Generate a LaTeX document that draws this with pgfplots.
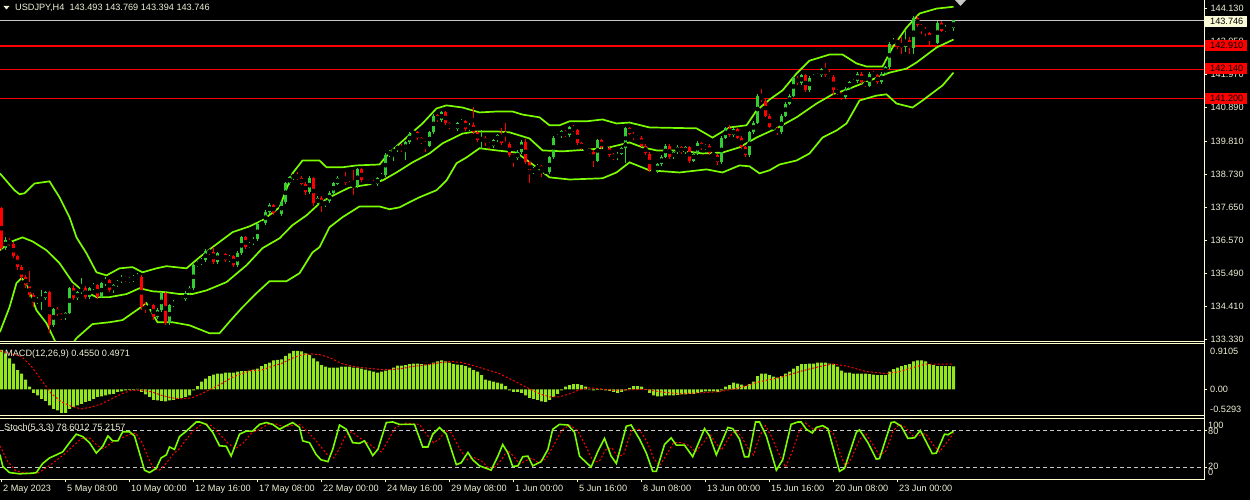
\documentclass[border=0pt]{standalone}
\usepackage{fontspec}
\setmainfont{Liberation Sans}
\usepackage{pgfplots}
\pgfplotsset{compat=1.18}
\usepackage{pgfplotstable}
\definecolor{fg}{RGB}{240,240,215}
\definecolor{frm}{RGB}{255,255,205}
\definecolor{bull}{RGB}{50,205,50}
\definecolor{bear}{RGB}{255,0,0}
\definecolor{band}{RGB}{124,252,0}
\definecolor{hist}{RGB}{150,230,30}
\definecolor{lvl}{RGB}{200,200,200}
\definecolor{bidbox}{RGB}{250,250,215}
\newcommand\tf{\fontsize{9.2}{11}\selectfont}

\pgfplotstableread{
i o h l c
0 137.61 137.66 136.25 136.31
1 136.31 136.66 136.24 136.57
2 136.57 136.63 136.38 136.44
3 136.44 136.50 135.98 136.04
4 136.04 136.10 135.60 135.69
5 135.69 135.75 135.28 135.36
6 135.36 135.44 135.02 135.10
7 135.10 135.55 134.70 134.77
8 134.77 134.85 134.40 134.54
9 134.54 134.70 134.48 134.64
10 134.64 134.95 134.30 134.68
11 134.68 134.92 134.62 134.87
12 134.87 134.90 133.53 133.79
13 133.79 134.36 133.72 134.32
14 134.32 134.38 134.10 134.15
15 134.15 134.20 133.95 134.02
16 134.02 134.24 133.96 134.19
17 134.19 135.05 134.15 135.00
18 135.00 135.10 134.62 134.68
19 134.68 134.92 134.60 134.87
20 134.87 135.33 134.82 135.00
21 135.00 135.06 134.66 134.71
22 134.71 135.05 134.65 135.00
23 135.00 135.16 134.94 135.10
24 135.10 135.14 134.66 134.71
25 134.71 135.20 134.68 135.16
26 135.16 135.36 135.08 135.26
27 135.26 135.30 134.88 134.94
28 134.94 135.15 134.86 135.10
29 135.10 135.28 135.05 135.23
30 135.23 135.42 135.18 135.36
31 135.36 135.40 135.20 135.26
32 135.26 135.36 135.16 135.29
33 135.29 135.42 135.22 135.33
34 135.33 135.50 135.27 135.36
35 135.36 135.42 134.30 134.38
36 134.38 134.55 134.20 134.35
37 134.35 134.50 134.28 134.45
38 134.45 134.50 133.95 134.06
39 134.06 134.34 134.00 134.28
40 134.28 134.88 134.22 134.84
41 134.84 134.88 133.79 133.86
42 133.86 134.50 133.80 134.45
43 134.45 134.60 134.38 134.54
44 134.54 134.66 134.48 134.61
45 134.61 134.70 134.55 134.64
46 134.64 134.90 134.58 134.84
47 134.84 135.08 134.78 135.00
48 135.00 135.80 134.95 135.75
49 135.75 135.90 135.70 135.82
50 135.82 135.98 135.76 135.91
51 135.91 136.27 135.86 136.21
52 136.21 136.28 136.10 136.18
53 136.18 136.34 135.80 135.85
54 135.85 136.20 135.80 136.14
55 136.14 136.20 136.04 136.11
56 136.11 136.16 135.86 135.91
57 135.91 136.10 135.86 136.04
58 136.04 136.08 135.70 135.75
59 135.75 136.20 135.70 136.14
60 136.14 136.72 136.08 136.66
61 136.66 136.70 136.28 136.34
62 136.34 136.52 136.30 136.47
63 136.47 136.66 136.42 136.60
64 136.60 137.14 136.55 137.09
65 137.09 137.20 137.02 137.12
66 137.12 137.54 137.08 137.48
67 137.48 137.78 137.42 137.71
68 137.71 137.76 137.40 137.45
69 137.45 137.50 137.35 137.41
70 137.41 137.88 137.36 137.81
71 137.81 138.48 137.76 138.42
72 138.42 138.68 138.38 138.62
73 138.62 138.76 138.55 138.69
74 138.69 138.78 138.52 138.59
75 138.59 138.65 138.36 138.42
76 138.42 138.48 138.06 138.13
77 138.13 138.66 138.08 138.59
78 138.59 138.64 137.70 137.77
79 137.77 138.00 137.72 137.94
80 137.94 138.00 137.50 137.71
81 137.71 137.90 137.66 137.84
82 137.84 138.16 137.80 138.10
83 138.10 138.48 138.05 138.42
84 138.42 138.65 138.38 138.59
85 138.59 138.70 138.54 138.62
86 138.62 138.80 138.36 138.42
87 138.42 138.50 138.30 138.36
88 138.36 138.85 138.05 138.33
89 138.33 138.94 138.28 138.88
90 138.88 138.92 138.46 138.52
91 138.52 138.58 138.42 138.49
92 138.49 138.55 138.40 138.46
93 138.46 138.52 138.33 138.39
94 138.39 138.64 138.34 138.59
95 138.59 138.75 138.54 138.69
96 138.69 139.40 138.64 139.34
97 139.34 139.53 139.28 139.47
98 139.47 139.58 139.15 139.50
99 139.50 139.72 139.44 139.66
100 139.66 139.70 139.44 139.50
101 139.50 139.82 139.20 139.76
102 139.76 140.10 139.70 140.05
103 140.05 140.16 140.00 140.09
104 140.09 140.14 139.84 139.89
105 139.89 139.94 139.70 139.76
106 139.76 139.80 139.45 139.66
107 139.66 140.14 139.60 140.09
108 140.09 140.70 140.04 140.64
109 140.64 140.70 140.42 140.48
110 140.48 140.80 140.44 140.74
111 140.74 140.78 140.33 140.38
112 140.38 140.42 140.20 140.25
113 140.25 140.30 140.14 140.19
114 140.19 140.44 140.14 140.38
115 140.38 140.52 140.33 140.45
116 140.45 140.50 140.14 140.19
117 140.19 140.38 140.14 140.32
118 140.32 140.93 140.04 140.09
119 140.09 140.14 139.78 139.83
120 139.83 140.15 139.55 139.92
121 139.92 139.98 139.66 139.73
122 139.73 139.78 139.56 139.63
123 139.63 139.88 139.58 139.83
124 139.83 140.04 139.78 139.99
125 139.99 140.22 139.68 139.73
126 139.73 140.41 139.64 139.70
127 139.70 139.76 139.28 139.34
128 139.34 139.40 138.95 139.24
129 139.24 139.50 139.18 139.44
130 139.44 139.85 139.40 139.79
131 139.79 139.86 139.05 139.11
132 139.11 139.16 138.42 138.78
133 138.78 138.96 138.72 138.91
134 138.91 139.04 138.85 138.98
135 138.98 139.03 138.62 138.85
136 138.85 138.90 138.72 138.78
137 138.78 139.32 138.72 139.27
138 139.27 139.98 139.22 139.92
139 139.92 140.02 139.86 139.96
140 139.96 140.18 139.90 140.12
141 140.12 140.18 139.94 139.99
142 139.99 140.30 139.94 140.25
143 140.25 140.32 140.10 140.15
144 140.15 140.20 139.68 139.73
145 139.73 139.78 139.50 139.57
146 139.57 139.62 139.48 139.53
147 139.53 139.58 139.38 139.44
148 139.44 139.50 138.95 139.17
149 139.17 139.88 139.12 139.83
150 139.83 139.88 139.54 139.60
151 139.60 139.66 139.50 139.57
152 139.57 139.62 139.28 139.34
153 139.34 139.40 139.18 139.24
154 139.24 139.46 139.18 139.40
155 139.40 139.62 139.34 139.57
156 139.57 140.28 139.10 140.22
157 140.22 140.28 140.00 140.05
158 140.05 140.10 139.84 139.89
159 139.89 140.00 139.84 139.92
160 139.92 139.96 139.60 139.66
161 139.66 139.70 139.34 139.40
162 139.40 139.45 138.80 138.85
163 138.85 138.90 138.76 138.82
164 138.82 139.10 138.76 139.04
165 139.04 139.35 138.98 139.30
166 139.30 139.72 139.25 139.66
167 139.66 139.70 139.22 139.27
168 139.27 139.50 139.22 139.44
169 139.44 139.68 139.38 139.60
170 139.60 139.65 139.38 139.44
171 139.44 139.66 139.38 139.60
172 139.60 139.64 139.10 139.17
173 139.17 139.46 139.12 139.40
174 139.40 139.80 139.35 139.73
175 139.73 139.78 139.50 139.57
176 139.57 139.72 139.50 139.66
177 139.66 139.70 139.35 139.40
178 139.40 139.46 139.28 139.34
179 139.34 139.38 139.04 139.11
180 139.11 139.98 139.06 139.92
181 139.92 140.28 139.86 140.22
182 140.22 140.34 139.94 139.99
183 139.99 140.24 139.94 140.19
184 140.19 140.24 139.86 139.92
185 139.92 139.96 139.54 139.60
186 139.60 139.65 139.28 139.34
187 139.34 140.14 139.28 140.09
188 140.09 140.46 140.04 140.41
189 140.41 141.35 140.36 141.29
190 141.29 141.49 141.08 141.13
191 141.13 141.18 140.58 140.64
192 140.64 140.70 140.22 140.28
193 140.28 140.34 140.16 140.22
194 140.22 140.28 140.00 140.09
195 140.09 140.70 140.04 140.64
196 140.64 141.08 140.58 141.03
197 141.03 141.34 140.98 141.29
198 141.29 141.94 141.24 141.88
199 141.88 141.92 141.64 141.69
200 141.69 142.00 141.64 141.95
201 141.95 142.00 141.40 141.46
202 141.46 141.94 141.42 141.88
203 141.88 141.98 141.82 141.91
204 141.91 142.02 141.86 141.95
205 141.95 142.20 141.90 142.15
206 142.15 142.37 141.90 141.95
207 141.95 142.12 141.84 141.90
208 141.90 141.95 141.30 141.46
209 141.46 141.52 141.30 141.36
210 141.36 141.42 141.16 141.23
211 141.23 141.58 141.18 141.52
212 141.52 141.78 141.48 141.72
213 141.72 141.82 141.66 141.75
214 141.75 142.06 141.70 142.01
215 142.01 142.06 141.66 141.72
216 141.72 141.78 141.56 141.62
217 141.62 142.06 141.58 142.01
218 142.01 142.08 141.90 141.95
219 141.95 142.00 141.66 141.72
220 141.72 142.06 141.68 142.01
221 142.01 142.26 141.96 142.21
222 142.21 143.05 142.16 142.99
223 142.99 143.16 142.94 143.09
224 143.09 143.14 142.80 142.99
225 142.99 143.20 142.66 142.86
226 142.86 143.40 142.70 143.09
227 143.09 143.20 142.66 142.86
228 142.86 143.90 142.64 143.84
229 143.84 143.88 143.52 143.58
230 143.58 143.62 143.30 143.48
231 143.48 143.54 143.24 143.32
232 143.32 143.38 142.92 143.09
233 143.09 143.14 142.96 143.02
234 143.02 143.72 142.98 143.67
235 143.67 143.72 143.36 143.41
236 143.41 143.58 143.36 143.51
237 143.51 143.56 143.40 143.49
238 143.493 143.769 143.394 143.746
}\candles

\pgfplotstableread[row sep=\\]{
i v\\
0 0.78\\ 1 0.71\\ 2 0.61\\ 3 0.51\\ 4 0.38\\ 5 0.31\\ 6 0.19\\ 7 0.05\\ 8 -0.07\\ 9 -0.12\\
10 -0.19\\ 11 -0.23\\ 12 -0.32\\ 13 -0.39\\ 14 -0.42\\ 15 -0.47\\ 16 -0.47\\ 17 -0.39\\ 18 -0.35\\ 19 -0.32\\
20 -0.29\\ 21 -0.25\\ 22 -0.23\\ 23 -0.19\\ 24 -0.15\\ 25 -0.14\\ 26 -0.12\\ 27 -0.10\\ 28 -0.09\\ 29 -0.05\\
30 -0.04\\ 31 -0.02\\ 32 -0.01\\ 33 -0.01\\ 34 0.01\\ 35 -0.05\\ 36 -0.10\\ 37 -0.15\\ 38 -0.21\\ 39 -0.22\\
40 -0.23\\ 41 -0.24\\ 42 -0.22\\ 43 -0.21\\ 44 -0.19\\ 45 -0.17\\ 46 -0.15\\ 47 -0.12\\ 48 -0.02\\ 49 0.06\\
50 0.15\\ 51 0.21\\ 52 0.26\\ 53 0.29\\ 54 0.31\\ 55 0.31\\ 56 0.33\\ 57 0.33\\ 58 0.33\\ 59 0.35\\
60 0.36\\ 61 0.36\\ 62 0.37\\ 63 0.39\\ 64 0.41\\ 65 0.46\\ 66 0.50\\ 67 0.53\\ 68 0.57\\ 69 0.58\\
70 0.59\\ 71 0.66\\ 72 0.71\\ 73 0.76\\ 74 0.76\\ 75 0.75\\ 76 0.71\\ 77 0.68\\ 78 0.61\\ 79 0.55\\
80 0.48\\ 81 0.45\\ 82 0.43\\ 83 0.43\\ 84 0.43\\ 85 0.45\\ 86 0.45\\ 87 0.45\\ 88 0.43\\ 89 0.43\\
90 0.41\\ 91 0.39\\ 92 0.37\\ 93 0.35\\ 94 0.33\\ 95 0.35\\ 96 0.37\\ 97 0.39\\ 98 0.43\\ 99 0.47\\
100 0.47\\ 101 0.48\\ 102 0.50\\ 103 0.51\\ 104 0.51\\ 105 0.50\\ 106 0.49\\ 107 0.50\\ 108 0.53\\ 109 0.55\\
110 0.57\\ 111 0.55\\ 112 0.53\\ 113 0.50\\ 114 0.49\\ 115 0.48\\ 116 0.46\\ 117 0.43\\ 118 0.38\\ 119 0.35\\
120 0.28\\ 121 0.19\\ 122 0.17\\ 123 0.15\\ 124 0.13\\ 125 0.11\\ 126 0.06\\ 127 -0.02\\ 128 -0.05\\ 129 -0.05\\
130 -0.07\\ 131 -0.12\\ 132 -0.17\\ 133 -0.19\\ 134 -0.21\\ 135 -0.24\\ 136 -0.25\\ 137 -0.21\\ 138 -0.15\\ 139 -0.09\\
140 -0.02\\ 141 0.05\\ 142 0.08\\ 143 0.10\\ 144 0.10\\ 145 0.08\\ 146 0.05\\ 147 0.01\\ 148 -0.02\\ 149 -0.01\\
150 -0.01\\ 151 -0.02\\ 152 -0.03\\ 153 -0.05\\ 154 -0.07\\ 155 -0.05\\ 156 -0.02\\ 157 0.03\\ 158 0.06\\ 159 0.06\\
160 0.05\\ 161 -0.01\\ 162 -0.07\\ 163 -0.12\\ 164 -0.14\\ 165 -0.14\\ 166 -0.12\\ 167 -0.12\\ 168 -0.12\\ 169 -0.11\\
170 -0.10\\ 171 -0.10\\ 172 -0.09\\ 173 -0.09\\ 174 -0.07\\ 175 -0.05\\ 176 -0.04\\ 177 -0.04\\ 178 -0.04\\ 179 -0.05\\
180 -0.02\\ 181 0.05\\ 182 0.08\\ 183 0.13\\ 184 0.11\\ 185 0.09\\ 186 0.06\\ 187 0.10\\ 188 0.15\\ 189 0.26\\
190 0.31\\ 191 0.31\\ 192 0.28\\ 193 0.25\\ 194 0.23\\ 195 0.26\\ 196 0.31\\ 197 0.35\\ 198 0.41\\ 199 0.46\\
200 0.50\\ 201 0.50\\ 202 0.51\\ 203 0.51\\ 204 0.53\\ 205 0.53\\ 206 0.53\\ 207 0.51\\ 208 0.50\\ 209 0.45\\
210 0.37\\ 211 0.33\\ 212 0.33\\ 213 0.31\\ 214 0.31\\ 215 0.31\\ 216 0.31\\ 217 0.30\\ 218 0.29\\ 219 0.28\\
220 0.28\\ 221 0.28\\ 222 0.35\\ 223 0.40\\ 224 0.43\\ 225 0.46\\ 226 0.48\\ 227 0.50\\ 228 0.55\\ 229 0.57\\
230 0.57\\ 231 0.55\\ 232 0.50\\ 233 0.48\\ 234 0.46\\ 235 0.46\\ 236 0.46\\ 237 0.46\\ 238 0.455\\
}\macd

\pgfplotsset{mt/.style={scale only axis, width=1204bp, xmin=-0.375, xmax=300.625,
  axis line style={draw=none}, xtick=\empty, ytick pos=right, tick align=outside,
  major tick length=3bp, tick style={draw=frm, line width=0.8bp},
  yticklabel style={font=\tf, text=fg},
  /pgf/number format/assume math mode=true, scaled y ticks=false},
  candle/.style n args={3}{forget plot, only marks, mark=none,
  restrict expr to domain={\thisrow{c}-\thisrow{o}}{#2},
  error bars/y dir=both, error bars/y explicit, error bars/error mark=none,
  error bars/error bar style={line width=#1, color=#3, solid}}}

\begin{document}
\begin{tikzpicture}
\fill[black] (0bp,0bp) rectangle (1250bp,500bp);

% ---------------- main price panel
\begin{axis}[mt, at={(0bp,158.3bp)}, anchor=south west, height=341.7bp,
  ymin=133.255, ymax=144.411,
  ytick={133.33,134.41,135.49,136.57,137.65,138.73,139.81,140.89,141.97,143.05,144.13},
  yticklabel style={/pgf/number format/fixed,/pgf/number format/fixed zerofill,/pgf/number format/precision=3}]
\addplot[color=bear, line width=1.3bp] coordinates {(-0.375,142.91) (300.625,142.91)};
\addplot[color=bear, line width=1.3bp] coordinates {(-0.375,142.14) (300.625,142.14)};
\addplot[color=bear, line width=1.3bp] coordinates {(-0.375,141.20) (300.625,141.20)};
\addplot[color=lvl, line width=1bp] coordinates {(-0.375,143.746) (300.625,143.746)};
% Bollinger bands
\addplot[band, line width=1.7bp] coordinates {(-0.4,138.75) (3.25,138.20) (4.5,138.07) (5.75,138.10) (8.25,138.42) (12,138.49) (14.5,137.97) (17,137.32) (18.75,136.66) (21.25,136.14) (23.75,135.52) (26.25,135.42) (29.5,135.65) (32.75,135.69) (35.25,135.52) (38.75,135.65) (41.25,135.72) (46.25,135.65) (49.5,136.01) (52.75,136.34) (57.75,136.83) (62,137.02) (65.25,137.22) (69.5,137.64) (72.75,138.75) (75.25,139.17) (79.5,139.17) (81.25,138.95) (85.25,138.95) (88.75,139.01) (94.5,139.04) (97,139.43) (101.25,139.92) (105.25,140.38) (108.75,140.87) (111.25,140.97) (115.25,140.90) (119.5,140.74) (123.75,140.77) (127.75,140.77) (130.25,140.67) (134.5,140.58) (137,140.32) (139.5,140.32) (142,140.45) (146.25,140.45) (150.25,140.51) (153.75,140.38) (157,140.41) (162,140.25) (173.75,140.22) (177.75,139.92) (182,140.25) (186.25,140.32) (188.75,140.80) (192,141.16) (195.25,141.46) (198.75,142.01) (202,142.43) (207,142.63) (210.25,142.63) (213.75,142.34) (216.25,142.24) (220.25,142.24) (222.75,142.86) (226.25,143.51) (229.5,143.97) (233.75,144.13) (238,144.19)};
\addplot[band, line width=1.7bp] coordinates {(-0.4,136.24) (2,136.50) (5.25,136.66) (7.75,136.53) (11.25,136.24) (14.5,135.82) (17.75,135.20) (20.25,134.93) (23.75,134.71) (27,134.71) (31.25,134.81) (34.5,135.00) (37.75,134.90) (41.25,134.87) (44.5,134.81) (47.75,134.81) (51.25,134.93) (56.25,135.20) (61.25,135.75) (65.25,136.31) (69.5,136.63) (72.75,137.06) (76.25,137.38) (79.5,137.77) (82,137.97) (87,138.29) (92,138.39) (95.25,138.52) (98.75,138.78) (102.75,139.11) (107,139.40) (110.25,139.73) (115.25,140.05) (118.75,140.12) (123.75,140.12) (127,140.09) (132,139.89) (135.25,139.50) (140.25,139.47) (147,139.53) (152,139.60) (157,139.76) (160.25,139.60) (163.75,139.50) (169.5,139.50) (175.25,139.40) (180.25,139.43) (184.5,139.60) (188.75,139.92) (193.75,140.22) (198.75,140.58) (203.75,141.03) (207.75,141.33) (212,141.52) (217,141.78) (222,142.04) (226.25,142.17) (228.75,142.37) (233.75,142.86) (238,143.12)};
\addplot[band, line width=1.7bp] coordinates {(-0.4,133.57) (2,134.38) (3.75,135.17) (5,135.33) (6.25,135.17) (8.75,134.28) (11.25,133.86) (13.25,133.31) (14.5,132.98) (17,133.04) (18.75,133.37) (22.75,133.83) (27,133.89) (30.25,133.96) (33.75,134.28) (36.25,134.51) (39,133.89) (42.75,133.89) (47,133.79) (52,133.53) (54.5,133.53) (57.75,134.02) (60.25,134.38) (63.75,134.84) (67,135.23) (71.25,135.23) (74.5,135.49) (77.75,136.17) (79.5,136.34) (82,136.99) (85.25,137.32) (89.5,137.67) (94.5,137.67) (97,137.58) (99.5,137.64) (102,137.81) (104.5,137.97) (108.75,138.20) (111.25,138.52) (113.75,139.08) (116.25,139.27) (119.5,139.57) (123.75,139.50) (128.75,139.43) (133.75,138.95) (137,138.62) (142,138.55) (150.25,138.59) (153.75,138.78) (157,139.11) (162,138.85) (169.5,138.78) (176.25,138.88) (180.25,138.78) (184.5,139.01) (187,138.98) (189.5,138.75) (192,138.85) (194.5,139.04) (198.75,139.17) (202,139.40) (205.25,139.92) (208.75,140.15) (211.25,140.38) (214.5,141.13) (218.75,141.29) (221.25,141.33) (223.75,141.03) (227.75,140.90) (230.25,141.13) (235.25,141.62) (238,142.04)};
% candles: wicks and bodies
\addplot[candle={1bp}{0:50}{bull}]
  table[x=i, y expr={(\thisrow{h}+\thisrow{l})/2}, y error expr={(\thisrow{h}-\thisrow{l})/2}] {\candles};
\addplot[candle={3bp}{0:50}{bull}]
  table[x=i, y expr={(\thisrow{o}+\thisrow{c})/2}, y error expr={max(abs(\thisrow{c}-\thisrow{o})/2,0.016)}] {\candles};
\addplot[candle={1bp}{-50:-0.0001}{bear}]
  table[x=i, y expr={(\thisrow{h}+\thisrow{l})/2}, y error expr={(\thisrow{h}-\thisrow{l})/2}] {\candles};
\addplot[candle={3bp}{-50:-0.0001}{bear}]
  table[x=i, y expr={(\thisrow{o}+\thisrow{c})/2}, y error expr={max(abs(\thisrow{c}-\thisrow{o})/2,0.016)}] {\candles};
\end{axis}

% ---------------- MACD panel
\begin{axis}[mt, at={(0bp,84bp)}, anchor=south west, height=72.7bp,
  ymin=-0.5293, ymax=0.9105, ytick={0}, yticklabels={}]
\addplot[ybar, bar width=3bp, fill=hist, draw=none] table[x=i, y=v] {\macd};
\addplot[color=bear, line width=1bp, dash pattern=on 2bp off 2bp] coordinates {(-0.4,0.76) (2.5,0.70) (5,0.65) (7.5,0.45) (10,0.18) (12.5,-0.09) (15,-0.25) (17.5,-0.34) (20,-0.39) (22.5,-0.35) (25,-0.29) (27.5,-0.19) (30,-0.09) (32.5,-0.02) (35,-0.02) (37.5,-0.05) (40,-0.12) (42.5,-0.17) (45,-0.19) (47.5,-0.17) (50,-0.09) (52.5,0.01) (55,0.11) (57.5,0.23) (60,0.31) (62.5,0.37) (65,0.38) (67.5,0.45) (70,0.51) (72.5,0.61) (75,0.68) (77.5,0.70) (80,0.68) (82.5,0.61) (85,0.51) (87.5,0.46) (90,0.43) (92.5,0.41) (95,0.39) (97.5,0.39) (100,0.41) (102.5,0.45) (105,0.47) (107.5,0.50) (110,0.53) (112.5,0.55) (115,0.53) (117.5,0.48) (120,0.42) (122.5,0.36) (124.5,0.31) (127,0.21) (129.5,0.11) (132,0.01) (134.5,-0.09) (137,-0.15) (139.5,-0.15) (142,-0.09) (144.5,-0.01) (147,0.03) (149.5,0.01) (152.8,-0.02) (157,-0.01) (161,0.0) (164.5,-0.05) (169.5,-0.09) (174.5,-0.07) (179.5,-0.05) (184.5,0.03) (189.5,0.15) (194.5,0.23) (199.5,0.35) (204.5,0.45) (207.8,0.50) (211.2,0.46) (216.2,0.35) (221.2,0.31) (224.5,0.35) (227.8,0.43) (231.2,0.50) (234.5,0.50) (238,0.497)};
\end{axis}

% ---------------- Stochastic panel
\begin{axis}[mt, at={(0bp,20.7bp)}, anchor=south west, height=61bp,
  ymin=0, ymax=100, ytick={20,80}, yticklabels={},
  xtick={0,16,...,224}, xtick pos=bottom,
  xticklabels={2 May 2023,5 May 08:00,10 May 00:00,12 May 16:00,17 May 08:00,22 May 00:00,24 May 16:00,29 May 08:00,1 Jun 00:00,5 Jun 16:00,8 Jun 08:00,13 Jun 00:00,15 Jun 16:00,20 Jun 08:00,23 Jun 00:00},
  xticklabel style={font=\tf, text=fg, anchor=north west, inner sep=0pt, xshift=1.5bp, yshift=-2.5bp}]
\addplot[color=lvl, line width=0.8bp, dash pattern=on 4bp off 3bp] coordinates {(-0.375,80) (300.625,80)};
\addplot[color=lvl, line width=0.8bp, dash pattern=on 4bp off 3bp] coordinates {(-0.375,20) (300.625,20)};
\addplot[color=bear, line width=1bp, dash pattern=on 2bp off 2bp] coordinates {(-0.4,55) (1.5,30) (3.5,14) (6,10) (9,10) (11.5,20) (13.5,30) (15.5,40) (18,55) (20,67) (22,68) (24,55) (25.5,50) (27.5,60) (29,65) (31.5,72) (33.5,76) (35,62) (36.5,38) (38,18) (39.5,15) (41,25) (43,42) (44.5,50) (46,64) (48,80) (50.5,92) (52.5,88) (54.5,74) (56.5,60) (58.5,50) (60.5,60) (62.5,76) (64.5,82) (66.5,90) (68.5,91) (70.5,86) (72.5,88) (74.5,90) (76.5,78) (78,68) (80,52) (81.5,40) (83,35) (84.5,50) (86,72) (87.5,78) (89.5,68) (91.5,60) (93.5,50) (95,45) (96.5,62) (98.5,85) (101,92) (104.5,90) (106.5,72) (108,60) (109.5,66) (111,80) (112.5,76) (114.5,50) (116.5,32) (118,36) (120,30) (121.5,20) (123,18) (125,32) (126.5,48) (128,38) (129.5,25) (131,30) (132.5,35) (134,28) (136,33) (138,55) (140,80) (142,89) (144,80) (146,55) (148,28) (149.5,30) (151,48) (152.5,52) (154,38) (155.5,40) (157.5,80) (159.5,82) (161.5,60) (163,35) (164.5,22) (166,38) (168,60) (170,60) (172,55) (173.5,45) (175.5,60) (177,75) (178.5,60) (180,48) (182,70) (183.5,80) (185,70) (186.5,52) (188,40) (189.5,70) (191,88) (192.5,70) (194.5,40) (196,20) (197.5,42) (199.5,80) (201,92) (203,82) (204.5,82) (206,85) (208,75) (209.5,45) (211,20) (212.5,35) (214.5,65) (216,75) (218,55) (219.5,40) (221,45) (223,80) (224.5,90) (226,85) (228,70) (229.5,72) (231,75) (233,56) (234.5,45) (236.5,62) (238,75.2)};
\addplot[band, line width=1.6bp] coordinates {(-0.4,40.5) (0.33,21) (2,11) (4.5,9) (7.8,10) (8.7,11) (10.3,26) (12,35) (13.7,40) (15.3,45) (17,60) (18.7,74) (20.3,70) (22,60) (23.7,43) (25.3,54) (26.6,71) (27.8,63) (29.1,63) (30.3,78) (32,78) (33.25,71) (34.5,43) (35.75,15) (37,11) (38.7,18) (39.9,35) (41.2,40) (42,53) (43.25,49) (44.5,70) (46.2,79) (48.7,94) (49.5,94) (51.2,90) (52.8,77) (54.5,55) (56.2,54) (57.4,38) (59.5,74) (61.2,79) (62.8,79) (64.5,90) (66.2,93) (67.8,90) (69.5,82) (71.2,88) (72.8,93) (74.5,85) (75.3,63) (77,60) (78.7,40) (79.9,32) (81.6,29) (82.8,49) (84.5,89) (86.2,82) (87.8,60) (89.5,59) (90.75,63) (92,49) (92.8,39) (94.1,49) (96.2,93) (97.8,94) (99.5,90) (103.25,90) (105.3,53) (106.6,53) (107.8,74) (109.5,85) (111.2,74) (113.7,24) (114.9,27) (116.6,44) (117.8,32) (119.5,22) (121.2,18) (122.4,15) (124.1,38) (125.3,57) (126.6,43) (127.8,21) (129.1,22) (130.3,37) (131.6,38) (132.8,22) (134.9,29) (136.6,49) (137.8,82) (139.5,90) (141.6,89) (143.25,77) (144.5,38) (147.4,20) (149.1,46) (150.75,67) (152.4,38) (153.7,26) (156.2,87) (157.4,89) (159.5,66) (161.2,43) (162.8,13) (163.7,13) (165.75,57) (167.4,68) (168.7,56) (170.75,56) (172.8,37) (175.75,83) (177,71) (178.7,40) (181.6,85) (182.8,83) (184.5,66) (185.75,37) (186.8,37) (188.5,94) (189.5,94) (191.2,71) (193.7,15) (195.3,32) (197.4,90) (199.1,94) (199.9,94) (201.2,82) (202.7,76) (203.7,85) (205.3,88) (206.6,83) (207.8,54) (209.5,13) (210.75,18) (213.7,77) (214.5,81) (216.6,60) (218.7,33) (219.5,34) (222.4,93) (223.25,94) (224.9,87) (226.6,67) (228.25,68) (229.7,80) (232.7,42) (233.7,43) (235.75,74) (236.6,73) (238,78.6)};
\end{axis}

\begin{scope}[x=1bp,y=1bp]
% ---------------- frames
\begin{scope}[frm, line width=1bp]
\draw (0,158.3) -- (1204.5,158.3);
\draw (0,156.7) -- (1204.5,156.7);
\draw (0,84) -- (1204.5,84);
\draw (0,81.7) -- (1204.5,81.7);
\draw (0,20.7) -- (1204.5,20.7);
\draw (1204.5,500) -- (1204.5,20.7);
\end{scope}

% ---------------- right price labels
\fill[bidbox] (1205,484.3) rectangle (1247,473.3);
\node[anchor=base west, inner sep=0pt, text=black, font=\tf] at (1210,475.5) {143.746};
\fill[bear] (1205,460) rectangle (1247,449);
\node[anchor=base west, inner sep=0pt, text=black, font=\tf] at (1210,451.2) {142.910};
\fill[bear] (1205,437.3) rectangle (1247,426);
\node[anchor=base west, inner sep=0pt, text=black, font=\tf] at (1210,428.4) {142.140};
\fill[bear] (1205,406.7) rectangle (1247,396);
\node[anchor=base west, inner sep=0pt, text=black, font=\tf] at (1210,398) {141.200};

% indicator scale labels
\begin{scope}[every node/.style={anchor=base west, inner sep=0pt, text=fg, font=\tf}]
\node at (1210,145.8) {0.9105};
\node at (1210,107.4) {0.00};
\node at (1210,87.6) {-0.5293};
\node at (1208,71) {100};
\node at (1208,65) {80};
\node at (1208,30) {20};
\node at (1208,24.4) {0};
% titles
\node at (15,489) {USDJPY,H4\ \ 143.493 143.769 143.394 143.746};
\node at (5,143.6) {MACD(12,26,9) 0.4550 0.4971};
\node at (4,69.3) {Stoch(5,3,3) 78.6012 75.2157};
\end{scope}
\fill[fg] (3.5,494) -- (9.5,494) -- (6.5,490.5) -- cycle;
\fill[lvl] (955,500) -- (966,500) -- (960.5,494) -- cycle;
\pgfresetboundingbox
\useasboundingbox (0,0) rectangle (1250,500);
\end{scope}
\end{tikzpicture}
\end{document}
